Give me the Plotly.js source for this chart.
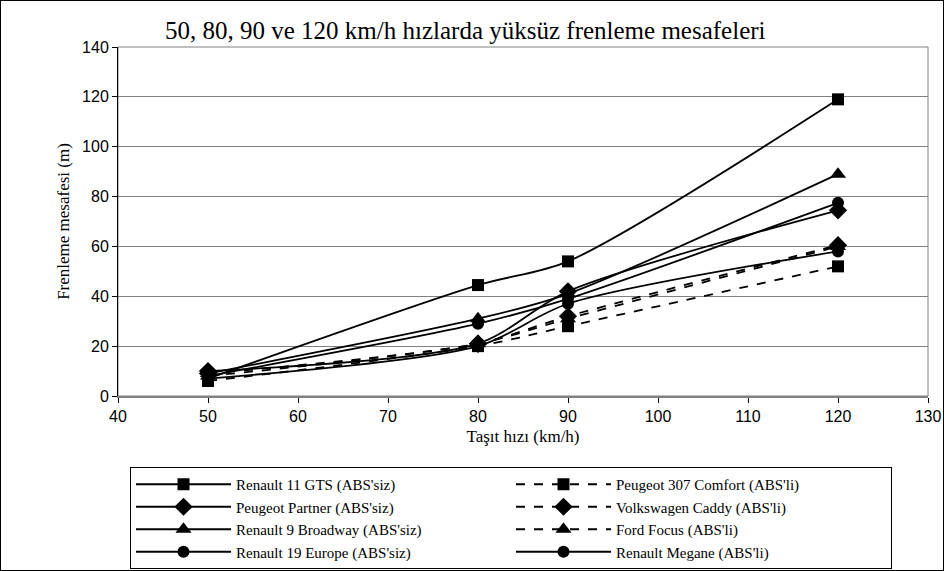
<!DOCTYPE html>
<html>
<head>
<meta charset="utf-8">
<script src="https://cdn.plot.ly/plotly-3.0.1.min.js"></script>
<style>
html,body{margin:0;padding:0;background:#fff;}
#chart{width:944px;height:571px;box-sizing:border-box;border:1px solid #000;}
</style>
</head>
<body>
<div id="chart"></div>
<script>
const speeds = [50, 80, 90, 120];
const renault11 = [7, 44.5, 54, 119];
const peugeot307 = [6, 20, 28, 52];
const partner = [10, 21, 42, 74.5];
const caddy = [9, 21, 32, 60.5];
const broadway = [9, 31, 41, 89];
const ford = [8, 21, 31, 60];
const europe = [8, 29, 39, 77.5];
const megane = [7, 20, 37, 58];

const names = [
  "Renault 11 GTS (ABS'siz)", "Peugeot 307 Comfort (ABS'li)",
  "Peugeot Partner (ABS'siz)", "Volkswagen Caddy (ABS'li)",
  "Renault 9 Broadway (ABS'siz)", "Ford Focus (ABS'li)",
  "Renault 19 Europe (ABS'siz)", "Renault Megane (ABS'li)"
];
const series = [renault11, peugeot307, partner, caddy, broadway, ford, europe, megane];
const symbols = ['square','square','diamond','diamond','triangle-up','triangle-up','circle','circle'];
const sizes = [12, 12, 14, 14, 14, 14, 12, 12];
const dashes = ['solid','dash','solid','dash','solid','dash','solid','solid'];

const traces = series.map((ys, i) => ({
  x: speeds, y: ys, name: names[i], type: 'scatter', mode: 'lines+markers',
  line: {color: '#000', width: 1.8, dash: dashes[i], shape: 'spline', smoothing: 0.8},
  marker: {symbol: symbols[i], size: sizes[i], color: '#000'}
}));

const W = 942, H = 569;
const L = 117, R = 15, T = 46, B = 174;
const pw = W - L - R, ph = H - T - B;

const layout = {
  width: W, height: H,
  margin: {l: L, r: R, t: T, b: B, autoexpand: false},
  paper_bgcolor: '#fff', plot_bgcolor: '#fff',
  showlegend: true,
  title: {text: '50, 80, 90 ve 120 km/h hızlarda yüksüz frenleme mesafeleri',
    font: {family: 'Liberation Serif', size: 25, color: '#000'},
    x: 164/W, xanchor: 'left', y: 1 - 29/H, yanchor: 'middle'},
  xaxis: {
    range: [40, 130], tickvals: [40,50,60,70,80,90,100,110,120,130],
    showgrid: false, zeroline: false,
    showline: true, linecolor: '#808080', linewidth: 2,
    ticks: 'outside', ticklen: 5, tickcolor: '#000', tickwidth: 1,
    tickfont: {family: 'Liberation Sans', size: 16, color: '#000'},
    title: {text: 'Taşıt hızı (km/h)', font: {family: 'Liberation Serif', size: 17, color: '#000'}, standoff: 6}
  },
  yaxis: {
    range: [0, 140], tickvals: [0,20,40,60,80,100,120,140],
    showgrid: true, gridcolor: '#808080', gridwidth: 1, zeroline: false,
    showline: true, linecolor: '#000', linewidth: 1,
    ticks: 'outside', ticklen: 5, tickcolor: '#000',
    tickfont: {family: 'Liberation Sans', size: 16, color: '#000'},
    title: {text: 'Frenleme mesafesi (m)', font: {family: 'Liberation Serif', size: 17, color: '#000'}, standoff: 8}
  },
  legend: {
    orientation: 'h', x: (129 - L) / pw, xanchor: 'left', y: (H - B - 466) / ph, yanchor: 'top',
    bordercolor: '#000', borderwidth: 1, bgcolor: '#fff',
    entrywidth: 270, entrywidthmode: 'pixels', itemwidth: 95,
    tracegroupgap: 0,
    font: {family: 'Liberation Serif', size: 15, color: '#000'}
  },
  shapes: [
    {type: 'rect', xref: 'paper', yref: 'paper', x0: 0, x1: 1, y0: 0, y1: 1,
     line: {color: '#808080', width: 1}, layer: 'below'}
  ]
};

Plotly.newPlot('chart', traces, layout, {displayModeBar: false, staticPlot: true});
</script>
</body>
</html>
